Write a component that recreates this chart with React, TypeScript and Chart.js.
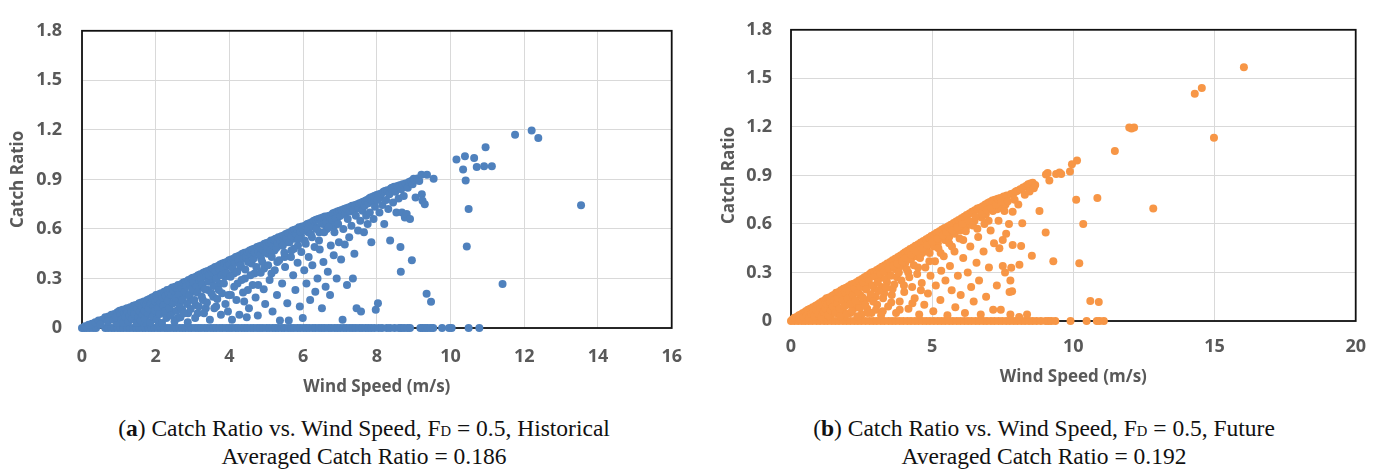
import { useEffect, useRef } from "react";
import { Chart, registerables } from "chart.js";

Chart.register(...registerables);

type Pt = [number, number];

// ---------- (a) Historical ----------
// wind speeds of the records whose catch ratio is zero
const histZeroSpeeds: number[] = [
  0, 0.06, 0.13, 0.21, 0.3, 0.38, 0.63, 0.71, 0.8, 0.88, 0.97, 1.05, 1.13, 1.22, 1.3, 1.39, 1.47,
  1.55, 1.64, 1.72, 1.81, 1.89, 1.97, 2.06, 2.14, 2.23, 2.31, 2.39, 2.48, 2.56, 2.65, 2.73, 2.81,
  2.9, 2.98, 3.07, 3.15, 3.23, 3.32, 3.4, 3.49, 3.57, 3.65, 3.74, 3.82, 3.91, 3.99, 4.07, 4.16,
  4.24, 4.33, 4.41, 4.49, 4.58, 4.66, 4.75, 4.83, 4.91, 5.0, 5.08, 5.17, 5.25, 5.33, 5.42, 5.5,
  5.59, 5.67, 5.75, 5.84, 5.92, 6.01, 6.09, 6.17, 6.26, 6.34, 6.43, 6.51, 6.59, 6.68, 6.76, 6.85,
  6.93, 7.01, 7.1, 7.18, 7.27, 7.35, 7.43, 7.52, 7.6, 7.69, 7.77, 7.85, 7.94, 8.05, 8.14, 8.27,
  8.36, 8.48, 8.6, 8.66, 8.74, 8.83, 8.9, 9.18, 9.24, 9.31, 9.38, 9.46, 9.53, 9.77, 9.96, 10.03,
  10.49, 10.78,
];

// light winds: the cloud starts at the origin
const histCalm: Pt[] = [
  [0.08, 0.01], [0.18, 0.02], [0.27, 0.025], [0.36, 0.035], [0.45, 0.045], [0.55, 0.05],
  [0.63, 0.065], [0.72, 0.07], [0.8, 0.08], [0.88, 0.085], [0.96, 0.095], [0.7, 0.04],
  [0.85, 0.05], [0.95, 0.03], [0.5, 0.02], [0.92, 0.065],
];

// main cloud, listed in narrow wind-speed slices
const histCloud: Pt[] = [
  [1.02, 0.105], [1.05, 0.08], [1.08, 0.05], [1.1, 0.11], [1.12, 0.03], [1.15, 0.09], [1.18, 0.065], [1.19, 0.115],
  [1.22, 0.12], [1.24, 0.095], [1.26, 0.04], [1.29, 0.075], [1.31, 0.125], [1.34, 0.1], [1.36, 0.055], [1.39, 0.135],
  [1.41, 0.11], [1.43, 0.085], [1.46, 0.14], [1.48, 0.03], [1.5, 0.12], [1.53, 0.065], [1.55, 0.15], [1.57, 0.1], [1.59, 0.045],
  [1.61, 0.155], [1.63, 0.13], [1.65, 0.08], [1.68, 0.16], [1.7, 0.105], [1.72, 0.055], [1.74, 0.14], [1.77, 0.17], [1.79, 0.09],
  [1.81, 0.12], [1.83, 0.175], [1.85, 0.035], [1.87, 0.15], [1.9, 0.185], [1.92, 0.07], [1.94, 0.13], [1.96, 0.19], [1.98, 0.105], [1.99, 0.16],
  [2.01, 0.2], [2.03, 0.05], [2.05, 0.175], [2.07, 0.12], [2.09, 0.205], [2.11, 0.085], [2.13, 0.155], [2.15, 0.21], [2.17, 0.03], [2.19, 0.185],
  [2.21, 0.135], [2.23, 0.22], [2.25, 0.1], [2.27, 0.195], [2.29, 0.06], [2.31, 0.23], [2.33, 0.165], [2.35, 0.21], [2.37, 0.12], [2.39, 0.235],
  [2.41, 0.075], [2.43, 0.2], [2.45, 0.245], [2.47, 0.15], [2.49, 0.225], [2.51, 0.04], [2.53, 0.25], [2.55, 0.18], [2.57, 0.105], [2.59, 0.235],
  [2.61, 0.26], [2.63, 0.205], [2.65, 0.13], [2.67, 0.065], [2.69, 0.265], [2.71, 0.24], [2.73, 0.17], [2.75, 0.275], [2.77, 0.09], [2.79, 0.22],
  [2.81, 0.28], [2.83, 0.255], [2.85, 0.145], [2.87, 0.035], [2.89, 0.29], [2.91, 0.2], [2.93, 0.265], [2.95, 0.115], [2.97, 0.3], [2.99, 0.235],
  [3.01, 0.305], [3.03, 0.275], [3.05, 0.17], [3.07, 0.06], [3.09, 0.31], [3.11, 0.25], [3.13, 0.215], [3.15, 0.32], [3.17, 0.13], [3.19, 0.29],
  [3.21, 0.325], [3.23, 0.3], [3.25, 0.19], [3.27, 0.265], [3.29, 0.335], [3.31, 0.09], [3.33, 0.235], [3.35, 0.34], [3.37, 0.31], [3.39, 0.155],
  [3.41, 0.345], [3.43, 0.28], [3.45, 0.32], [3.47, 0.05], [3.49, 0.355], [3.51, 0.21], [3.53, 0.335], [3.55, 0.36], [3.57, 0.255], [3.59, 0.12],
  [3.61, 0.37], [3.63, 0.34], [3.65, 0.3], [3.67, 0.175], [3.69, 0.375], [3.71, 0.23], [3.73, 0.355], [3.75, 0.385], [3.77, 0.08], [3.79, 0.32],
  [3.81, 0.39], [3.83, 0.36], [3.85, 0.27], [3.87, 0.395], [3.89, 0.145], [3.91, 0.335], [3.93, 0.4], [3.95, 0.375], [3.97, 0.2], [3.99, 0.41],
  [4.01, 0.385], [4.03, 0.31], [4.05, 0.415], [4.07, 0.05], [4.09, 0.36], [4.11, 0.42], [4.13, 0.25], [4.15, 0.395], [4.17, 0.43], [4.19, 0.17],
  [4.21, 0.34], [4.23, 0.435], [4.25, 0.41], [4.27, 0.08], [4.29, 0.44], [4.31, 0.38], [4.33, 0.29], [4.35, 0.45], [4.37, 0.215], [4.39, 0.42],
  [4.41, 0.455], [4.43, 0.355], [4.45, 0.43], [4.47, 0.065], [4.49, 0.46], [4.51, 0.4], [4.53, 0.12], [4.55, 0.47], [4.57, 0.32], [4.59, 0.445],
  [4.61, 0.475], [4.63, 0.26], [4.65, 0.42], [4.67, 0.48], [4.69, 0.455], [4.71, 0.185], [4.73, 0.37], [4.75, 0.49], [4.77, 0.075], [4.79, 0.465],
  [4.81, 0.495], [4.83, 0.44], [4.85, 0.335], [4.87, 0.5], [4.89, 0.4], [4.91, 0.475], [4.93, 0.235], [4.95, 0.51], [4.97, 0.145], [4.99, 0.455],
  [5.01, 0.515], [5.03, 0.49], [5.05, 0.38], [5.07, 0.52], [5.09, 0.29], [5.11, 0.47], [5.13, 0.53], [5.15, 0.43], [5.17, 0.1], [5.19, 0.5],
  [5.21, 0.535], [5.23, 0.35], [5.25, 0.54], [5.27, 0.485], [5.29, 0.2], [5.31, 0.515], [5.33, 0.55], [5.35, 0.41], [5.37, 0.045], [5.39, 0.53],
  [5.41, 0.555], [5.43, 0.27], [5.45, 0.5], [5.47, 0.56], [5.49, 0.455], [5.51, 0.37], [5.53, 0.57], [5.55, 0.54], [5.57, 0.15], [5.59, 0.575],
  [5.61, 0.045], [5.63, 0.52], [5.65, 0.58], [5.67, 0.43], [5.69, 0.555], [5.71, 0.59], [5.73, 0.32], [5.75, 0.48], [5.77, 0.595], [5.79, 0.23],
  [5.81, 0.57], [5.83, 0.6], [5.85, 0.395], [5.87, 0.54], [5.89, 0.61], [5.91, 0.13], [5.93, 0.585], [5.95, 0.46], [5.97, 0.615], [5.99, 0.06],
  [6.01, 0.59], [6.03, 0.35], [6.05, 0.62], [6.07, 0.51], [6.09, 0.27], [6.11, 0.63], [6.13, 0.6], [6.15, 0.43], [6.17, 0.635], [6.19, 0.17],
  [6.21, 0.57], [6.23, 0.64], [6.25, 0.38], [6.27, 0.615], [6.29, 0.65], [6.31, 0.49], [6.33, 0.22], [6.35, 0.655], [6.37, 0.6], [6.39, 0.3],
  [6.41, 0.66], [6.43, 0.53], [6.45, 0.475], [6.47, 0.665], [6.49, 0.635], [6.51, 0.12], [6.53, 0.67], [6.55, 0.4], [6.57, 0.58], [6.59, 0.675],
  [6.61, 0.25], [6.63, 0.64], [6.65, 0.675], [6.67, 0.34], [6.69, 0.61], [6.71, 0.68], [6.73, 0.2], [6.75, 0.5], [6.77, 0.685], [6.79, 0.655],
  [6.81, 0.695], [6.83, 0.44], [6.85, 0.58], [6.87, 0.7], [6.89, 0.665], [6.91, 0.3], [6.93, 0.705], [6.95, 0.63], [6.97, 0.52], [6.99, 0.71],
  [7.01, 0.68], [7.03, 0.415], [7.05, 0.715], [7.07, 0.05], [7.09, 0.6], [7.11, 0.72], [7.13, 0.505], [7.15, 0.695], [7.17, 0.725], [7.19, 0.26],
  [7.21, 0.66], [7.23, 0.73], [7.25, 0.55], [7.27, 0.705], [7.29, 0.735], [7.31, 0.62], [7.33, 0.74], [7.35, 0.3], [7.37, 0.715], [7.39, 0.45],
  [7.41, 0.745], [7.43, 0.68], [7.45, 0.12], [7.47, 0.75], [7.49, 0.59], [7.51, 0.725], [7.53, 0.755], [7.55, 0.65], [7.57, 0.1], [7.59, 0.76],
  [7.61, 0.71], [7.63, 0.765], [7.65, 0.58], [7.67, 0.74], [7.69, 0.77], [7.71, 0.68], [7.73, 0.775], [7.75, 0.63], [7.77, 0.755], [7.79, 0.785],
  [7.81, 0.7], [7.83, 0.79], [7.85, 0.52], [7.87, 0.77], [7.89, 0.795], [7.91, 0.66], [7.93, 0.8], [7.95, 0.735], [7.97, 0.11], [7.99, 0.805],
  [8.01, 0.775], [8.03, 0.15], [8.05, 0.81], [8.07, 0.7], [8.09, 0.79], [8.12, 0.815], [8.15, 0.745], [8.18, 0.825], [8.2, 0.63],
  [8.22, 0.83], [8.25, 0.775], [8.28, 0.835], [8.31, 0.72], [8.34, 0.81], [8.36, 0.53], [8.38, 0.845],
  [8.41, 0.85], [8.44, 0.76], [8.47, 0.855], [8.5, 0.825], [8.53, 0.7], [8.56, 0.86], [8.59, 0.785],
  [8.62, 0.865], [8.64, 0.49], [8.65, 0.34], [8.66, 0.84], [8.68, 0.7], [8.7, 0.87], [8.73, 0.8], [8.76, 0.67], [8.78, 0.875],
  [8.81, 0.69], [8.84, 0.85], [8.87, 0.885], [8.9, 0.66], [8.93, 0.89], [8.95, 0.41], [8.97, 0.87],
  [9.0, 0.904], [9.02, 0.9], [9.05, 0.79], [9.1, 0.905], [9.15, 0.89], [9.21, 0.928], [9.22, 0.81], [9.24, 0.77],
  [9.3, 0.75], [9.36, 0.928], [9.35, 0.208], [9.47, 0.159], [9.54, 0.904],
];

// extra records filling the lower part of the cloud
const histFill: Pt[] = [
  [1.1, 0.07], [1.25, 0.06], [1.4, 0.07], [1.52, 0.09], [1.66, 0.03], [1.72, 0.12], [1.86, 0.09],
  [1.95, 0.06], [2.0, 0.14], [2.08, 0.03], [2.15, 0.1], [2.24, 0.16], [2.3, 0.08], [2.38, 0.14],
  [2.46, 0.1], [2.52, 0.18], [2.6, 0.06], [2.66, 0.16], [2.72, 0.11], [2.8, 0.2], [2.88, 0.09],
  [2.94, 0.17], [3.02, 0.22], [3.08, 0.14], [3.14, 0.09], [3.22, 0.25], [3.28, 0.17], [3.36, 0.12],
  [3.42, 0.23], [3.52, 0.29], [3.56, 0.19], [3.64, 0.13], [3.72, 0.27], [3.8, 0.21], [3.88, 0.31],
  [3.96, 0.1], [4.04, 0.2], [4.12, 0.33], [4.22, 0.27], [4.3, 0.37], [4.4, 0.16], [4.42, 0.3],
  [4.5, 0.23], [4.6, 0.39], [4.68, 0.33], [4.78, 0.26], [4.86, 0.42], [4.94, 0.36], [5.04, 0.45],
  [5.14, 0.33], [5.22, 0.47], [5.3, 0.4], [5.4, 0.5], [5.5, 0.43], [5.58, 0.52], [5.68, 0.47],
  [5.76, 0.54], [5.86, 0.5], [5.94, 0.56], [6.04, 0.53], [6.14, 0.58], [6.24, 0.55], [6.34, 0.61],
  [6.44, 0.58], [6.54, 0.63], [6.64, 0.6], [6.74, 0.65], [6.84, 0.62], [6.94, 0.67],
];

// isolated records at the highest wind speeds
const histHighWind: Pt[] = [
  [10.16, 1.02], [10.39, 1.04], [10.64, 1.03], [10.34, 0.96], [10.71, 0.975], [10.91, 0.98],
  [11.12, 0.98], [10.95, 1.094], [10.41, 0.894], [10.49, 0.72], [10.44, 0.494], [11.41, 0.267],
  [11.75, 1.17], [12.2, 1.196], [12.38, 1.15], [13.54, 0.743],
];

// ---------- (b) Future ----------
const futZeroSpeeds: number[] = [
  0, 0.12, 0.25, 0.38, 0.5, 0.63, 0.76, 0.9, 1.03, 1.17, 1.3, 1.44, 1.57, 1.7, 1.84, 1.97, 2.1,
  2.24, 2.37, 2.5, 2.64, 2.78, 2.91, 3.04, 3.18, 3.31, 3.45, 3.58, 3.71, 3.85, 3.98, 4.12, 4.25,
  4.39, 4.52, 4.66, 4.79, 4.92, 5.06, 5.2, 5.33, 5.46, 5.6, 5.73, 5.87, 6.0, 6.14, 6.27, 6.4,
  6.54, 6.67, 6.81, 6.94, 7.08, 7.21, 7.35, 7.48, 7.62, 7.75, 7.89, 8.02, 8.16, 8.29, 8.43, 8.56,
  8.7, 8.85, 9.02, 9.12, 9.22, 9.36, 9.9, 10.47, 10.83, 10.93, 11.08,
];

const futCloud: Pt[] = [
  [0.05, 0.01], [0.12, 0.02], [0.2, 0.025], [0.28, 0.035], [0.35, 0.04], [0.42, 0.05], [0.3, 0.015], [0.45, 0.025],
  [0.52, 0.06], [0.56, 0.035], [0.6, 0.07], [0.64, 0.02], [0.68, 0.075], [0.72, 0.045],
  [0.77, 0.085], [0.8, 0.06], [0.83, 0.03], [0.87, 0.095], [0.9, 0.07], [0.94, 0.1], [0.97, 0.045],
  [1.01, 0.11], [1.04, 0.08], [1.07, 0.025], [1.1, 0.12], [1.13, 0.095], [1.16, 0.055], [1.2, 0.13], [1.23, 0.075],
  [1.26, 0.14], [1.29, 0.105], [1.32, 0.035], [1.35, 0.145], [1.38, 0.12], [1.41, 0.065], [1.45, 0.155], [1.48, 0.09],
  [1.51, 0.16], [1.54, 0.13], [1.57, 0.05], [1.6, 0.175], [1.63, 0.11], [1.66, 0.145], [1.69, 0.18], [1.72, 0.075], [1.74, 0.03],
  [1.77, 0.19], [1.8, 0.16], [1.83, 0.125], [1.86, 0.2], [1.89, 0.09], [1.92, 0.175], [1.95, 0.205], [1.98, 0.045],
  [2.01, 0.14], [2.04, 0.215], [2.07, 0.185], [2.1, 0.105], [2.13, 0.225], [2.16, 0.06], [2.19, 0.16], [2.22, 0.23],
  [2.26, 0.2], [2.29, 0.125], [2.32, 0.24], [2.35, 0.03], [2.38, 0.175], [2.41, 0.25], [2.44, 0.08], [2.47, 0.215],
  [2.51, 0.26], [2.54, 0.145], [2.57, 0.235], [2.6, 0.27], [2.63, 0.1], [2.66, 0.195], [2.69, 0.28], [2.72, 0.05],
  [2.76, 0.255], [2.79, 0.29], [2.82, 0.165], [2.85, 0.3], [2.88, 0.22], [2.91, 0.12], [2.94, 0.305], [2.97, 0.275],
  [3.01, 0.07], [3.04, 0.315], [3.07, 0.24], [3.1, 0.185], [3.13, 0.325], [3.16, 0.29], [3.19, 0.035], [3.22, 0.335],
  [3.26, 0.14], [3.29, 0.305], [3.32, 0.345], [3.35, 0.26], [3.38, 0.205], [3.41, 0.355], [3.44, 0.09], [3.47, 0.325],
  [3.51, 0.365], [3.54, 0.28], [3.57, 0.16], [3.6, 0.375], [3.63, 0.34], [3.66, 0.225], [3.69, 0.385], [3.72, 0.05],
  [3.76, 0.355], [3.79, 0.395], [3.82, 0.3], [3.85, 0.12], [3.88, 0.405], [3.91, 0.25], [3.94, 0.37], [3.97, 0.415],
  [4.01, 0.18], [4.04, 0.425], [4.07, 0.39], [4.1, 0.32], [4.13, 0.435], [4.16, 0.075], [4.19, 0.27], [4.22, 0.445],
  [4.26, 0.41], [4.29, 0.21], [4.32, 0.455], [4.35, 0.345], [4.38, 0.14], [4.41, 0.465], [4.44, 0.43], [4.47, 0.29],
  [4.51, 0.475], [4.54, 0.04], [4.57, 0.39], [4.6, 0.485], [4.63, 0.235], [4.66, 0.45], [4.69, 0.495], [4.72, 0.1],
  [4.76, 0.33], [4.79, 0.505], [4.82, 0.47], [4.85, 0.17], [4.88, 0.515], [4.91, 0.42], [4.94, 0.28], [4.97, 0.525],
  [5.01, 0.49], [5.04, 0.06], [5.07, 0.535], [5.1, 0.37], [5.13, 0.22], [5.16, 0.545], [5.19, 0.51], [5.22, 0.45],
  [5.26, 0.555], [5.29, 0.13], [5.32, 0.31], [5.35, 0.565], [5.38, 0.53], [5.41, 0.4], [5.44, 0.575], [5.47, 0.25],
  [5.51, 0.55], [5.54, 0.035], [5.57, 0.585], [5.6, 0.48], [5.63, 0.34], [5.66, 0.595], [5.69, 0.19], [5.72, 0.56],
  [5.76, 0.605], [5.79, 0.43], [5.82, 0.085], [5.85, 0.615], [5.88, 0.58], [5.91, 0.28], [5.94, 0.625], [5.97, 0.51],
  [6.01, 0.16], [6.04, 0.635], [6.07, 0.6], [6.1, 0.39], [6.13, 0.645], [6.16, 0.05], [6.19, 0.555], [6.22, 0.655],
  [6.26, 0.3], [6.29, 0.62], [6.32, 0.665], [6.35, 0.46], [6.38, 0.21], [6.41, 0.675], [6.44, 0.59], [6.47, 0.12],
  [6.51, 0.685], [6.54, 0.645], [6.57, 0.36], [6.6, 0.695], [6.63, 0.52], [6.66, 0.25], [6.69, 0.7], [6.72, 0.04],
  [6.76, 0.665], [6.79, 0.71], [6.82, 0.43], [6.85, 0.6], [6.88, 0.72], [6.91, 0.15], [6.94, 0.685], [6.97, 0.73],
  [7.01, 0.33], [7.04, 0.735], [7.07, 0.56], [7.1, 0.7], [7.13, 0.745], [7.16, 0.07], [7.19, 0.48], [7.22, 0.75],
  [7.26, 0.72], [7.29, 0.22], [7.32, 0.755], [7.35, 0.62], [7.38, 0.45], [7.41, 0.76], [7.43, 0.07], [7.46, 0.735], [7.5, 0.5], [7.5, 0.34],
  [7.53, 0.77], [7.56, 0.68], [7.58, 0.3], [7.62, 0.54], [7.64, 0.775], [7.68, 0.74], [7.72, 0.6], [7.74, 0.18], [7.77, 0.25],
  [7.79, 0.785], [7.8, 0.329], [7.83, 0.184], [7.85, 0.47], [7.85, 0.675], [7.88, 0.79], [7.92, 0.75], [7.96, 0.8], [7.77, 0.04],
  [8.02, 0.805], [8.05, 0.72], [8.08, 0.025], [8.09, 0.347], [8.12, 0.815], [8.15, 0.463], [8.19, 0.604], [8.22, 0.825],
  [8.28, 0.78], [8.32, 0.835], [8.36, 0.04], [8.4, 0.845], [8.45, 0.8], [8.48, 0.85], [8.53, 0.404],
  [8.56, 0.855], [8.6, 0.82], [8.65, 0.84], [8.8, 0.68], [9.02, 0.547], [9.03, 0.905], [9.09, 0.915],
  [9.15, 0.869], [9.29, 0.369], [9.39, 0.908], [9.51, 0.918], [9.57, 0.908], [9.88, 0.924],
  [9.95, 0.969], [10.13, 0.992],
];

const futFill: Pt[] = [
  [0.6, 0.045], [0.75, 0.055], [0.9, 0.035], [1.0, 0.09], [1.15, 0.04], [1.18, 0.1], [1.3, 0.08],
  [1.4, 0.025], [1.43, 0.11], [1.55, 0.085], [1.65, 0.05], [1.68, 0.125], [1.8, 0.06], [1.85, 0.14],
  [1.9, 0.03], [2.0, 0.1], [2.05, 0.17], [2.1, 0.05], [2.2, 0.13], [2.25, 0.08], [2.3, 0.19],
  [2.4, 0.11], [2.45, 0.16], [2.5, 0.04], [2.55, 0.21], [2.6, 0.13], [2.7, 0.075], [2.75, 0.225],
  [2.8, 0.14], [2.85, 0.05], [2.95, 0.2], [3.0, 0.15], [3.05, 0.1], [3.1, 0.26], [3.2, 0.21],
  [3.25, 0.06], [3.3, 0.17], [3.4, 0.24], [3.45, 0.29], [3.55, 0.115], [3.6, 0.2], [3.7, 0.32],
  [3.75, 0.27], [3.85, 0.07], [3.9, 0.34], [4.0, 0.22], [4.05, 0.36], [4.15, 0.3], [4.25, 0.38],
  [4.3, 0.11], [4.45, 0.4], [4.5, 0.33], [4.6, 0.19], [4.65, 0.42], [4.8, 0.44], [4.9, 0.37],
  [5.05, 0.46], [5.2, 0.48], [5.3, 0.42], [5.45, 0.5], [5.6, 0.52], [5.7, 0.46], [5.8, 0.54],
  [6.0, 0.56], [6.1, 0.5], [6.2, 0.58], [6.35, 0.6], [6.5, 0.62], [6.6, 0.57], [6.75, 0.64],
  [6.9, 0.66], [7.0, 0.62], [7.15, 0.68], [7.3, 0.69], [7.45, 0.7], [7.6, 0.72],
];

const futHighWind: Pt[] = [
  [10.1, 0.749], [10.85, 0.761], [10.35, 0.6], [10.21, 0.357], [10.6, 0.124], [10.9, 0.118],
  [11.47, 1.051], [11.98, 1.196], [12.15, 1.196], [12.06, 1.19], [12.83, 0.696], [14.3, 1.404],
  [14.55, 1.44], [14.98, 1.133], [16.04, 1.568],
];

const yMax = 1.8;
const yStep = 0.3;
const histXMax = 16;
const histXStep = 2;
const futXMax = 20;
const futXStep = 5;

const BLUE = "#4f81bd";
const ORANGE = "#f79646";
const AXIS_TEXT = "#595959";
const tickFont = { family: "'Open Sans', sans-serif", size: 18, weight: "bold" as const };
const titleFont = { family: "'Open Sans', sans-serif", size: 17, weight: "bold" as const };

// black frame around the plot area, drawn under the markers
const plotFrame = {
  id: "plotFrame",
  beforeDatasetsDraw(chart: Chart) {
    const { ctx, chartArea } = chart;
    ctx.save();
    ctx.strokeStyle = "#111";
    ctx.lineWidth = 1.8;
    ctx.strokeRect(chartArea.left, chartArea.top, chartArea.right - chartArea.left, chartArea.bottom - chartArea.top);
    ctx.restore();
  },
};

type Layout = {
  left: number;
  width: number;
  height: number;
  padTop: number;
  padRight: number;
  yAxisWidth: number;
  xAxisHeight: number;
  yTickPad: number;
  xTickPad: number;
  yTitlePad: number;
  xTitlePad: number;
};

function ScatterPanel(props: { points: Pt[]; color: string; xMax: number; xStep: number; layout: Layout }) {
  const { points, color, xMax, xStep, layout } = props;
  const ref = useRef<HTMLCanvasElement>(null);

  useEffect(() => {
    if (!ref.current) return;
    const chart = new Chart(ref.current, {
      type: "scatter",
      data: {
        datasets: [
          {
            data: points.map(([x, y]) => ({ x, y })),
            backgroundColor: color,
            borderWidth: 0,
            pointRadius: 4,
            pointHoverRadius: 4,
            clip: false,
          },
        ],
      },
      options: {
        responsive: false,
        animation: false,
        events: [],
        layout: { padding: { left: 0, top: layout.padTop, right: layout.padRight, bottom: 0 } },
        plugins: { legend: { display: false }, tooltip: { enabled: false } },
        scales: {
          x: {
            type: "linear",
            min: 0,
            max: xMax,
            afterFit: (s: any) => {
              s.height = layout.xAxisHeight;
            },
            grid: { color: "#d9d9d9", lineWidth: 1, drawTicks: false },
            border: { display: false },
            ticks: { stepSize: xStep, padding: layout.xTickPad, color: AXIS_TEXT, font: tickFont },
            title: {
              display: true,
              text: "Wind Speed (m/s)",
              color: AXIS_TEXT,
              font: titleFont,
              padding: { top: 0, bottom: layout.xTitlePad },
            },
          },
          y: {
            type: "linear",
            min: 0,
            max: yMax,
            afterFit: (s: any) => {
              s.width = layout.yAxisWidth;
            },
            grid: { color: "#d9d9d9", lineWidth: 1, drawTicks: false },
            border: { display: false },
            ticks: {
              stepSize: yStep,
              padding: layout.yTickPad,
              color: AXIS_TEXT,
              font: tickFont,
              callback: (v: any) => (Number(v) === 0 ? "0" : Number(v).toFixed(1)),
            },
            title: {
              display: true,
              text: "Catch Ratio",
              color: AXIS_TEXT,
              font: titleFont,
              padding: { top: layout.yTitlePad, bottom: 0 },
            },
          },
        },
      },
      plugins: [plotFrame],
    });
    return () => chart.destroy();
  }, []);

  return (
    <canvas
      ref={ref}
      width={layout.width}
      height={layout.height}
      style={{ position: "absolute", left: layout.left, top: 0, width: layout.width, height: layout.height }}
    />
  );
}

const histPoints: Pt[] = [
  ...histZeroSpeeds.map((x) => [x, 0] as Pt),
  ...histCalm,
  ...histFill,
  ...histCloud,
  ...histHighWind,
];
const futPoints: Pt[] = [
  ...futZeroSpeeds.map((x) => [x, 0] as Pt),
  ...futFill,
  ...futCloud,
  ...futHighWind,
];

const captionStyle = {
  position: "absolute" as const,
  top: 414,
  textAlign: "center" as const,
  fontFamily: "'Liberation Serif', 'Times New Roman', serif",
  fontSize: 23.5,
  lineHeight: "28px",
  color: "#111",
};

// small-capital "D" of the drag factor symbol, kept from enlarging the line box
const subD = { fontSize: "0.62em", lineHeight: "0" };

export default function App() {
  return (
    <div style={{ position: "fixed", left: 0, top: 0, width: 1381, height: 472, background: "#fff", overflow: "hidden" }}>
      <ScatterPanel
        points={histPoints}
        color={BLUE}
        xMax={histXMax}
        xStep={histXStep}
        layout={{
          left: 0, width: 700, height: 400, padTop: 22, padRight: 26, yAxisWidth: 82, xAxisHeight: 72,
          yTickPad: 20, xTickPad: 18, yTitlePad: 8, xTitlePad: 3,
        }}
      />
      <ScatterPanel
        points={futPoints}
        color={ORANGE}
        xMax={futXMax}
        xStep={futXStep}
        layout={{
          left: 700, width: 681, height: 400, padTop: 27, padRight: 24, yAxisWidth: 91, xAxisHeight: 79,
          yTickPad: 19, xTickPad: 15, yTitlePad: 19, xTitlePad: 13,
        }}
      />
      <div style={{ ...captionStyle, left: 14, width: 700 }}>
        (<b>a</b>) Catch Ratio vs. Wind Speed, F<span style={subD}>D</span> = 0.5, Historical
        <br />
        Averaged Catch Ratio = 0.186
      </div>
      <div style={{ ...captionStyle, left: 694, width: 700 }}>
        (<b>b</b>) Catch Ratio vs. Wind Speed, F<span style={subD}>D</span> = 0.5, Future
        <br />
        Averaged Catch Ratio = 0.192
      </div>
    </div>
  );
}
